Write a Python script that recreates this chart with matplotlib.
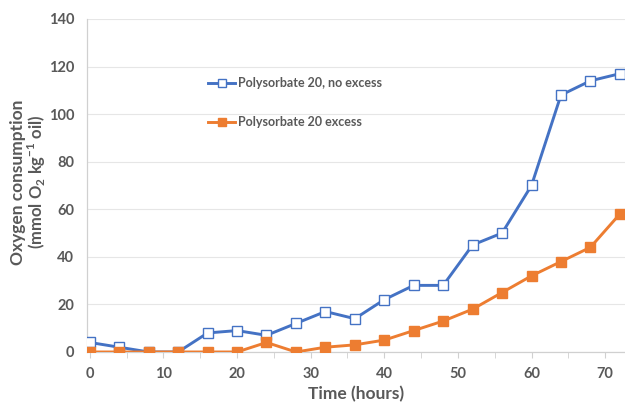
import matplotlib
matplotlib.use('Agg')
import matplotlib.pyplot as plt

hours = [0, 4, 8, 12, 16, 20, 24, 28, 32, 36, 40, 44, 48, 52, 56, 60, 64, 68, 72]
no_excess = [4, 2, 0, 0, 8, 9, 7, 12, 17, 14, 22, 28, 28, 45, 50, 70, 108, 114, 117]
excess = [0, 0, 0, 0, 0, 0, 4, 0, 2, 3, 5, 9, 13, 18, 25, 32, 38, 44, 58]
labels = ['Polysorbate 20, no excess', 'Polysorbate 20 excess']

BLUE = '#4472C4'
ORANGE = '#ED7D31'
TEXT = '#595959'

plt.rcParams['font.family'] = ['Lato', 'DejaVu Sans']
plt.rcParams['mathtext.fontset'] = 'custom'
plt.rcParams['mathtext.rm'] = 'Lato:bold'
plt.rcParams['mathtext.bf'] = 'Lato:bold'

fig = plt.figure(figsize=(6.25, 4.03), dpi=100)
ax = fig.add_axes([0.139, 0.1266, 0.861, 0.8263])

ax.plot(hours, no_excess, color=BLUE, lw=2.1, marker='s', ms=7.5,
        mfc='white', mec=BLUE, mew=1.0, label=labels[0], zorder=3)
ax.plot(hours, excess, color=ORANGE, lw=2.1, marker='s', ms=7.5,
        mfc=ORANGE, mec=ORANGE, label=labels[1], zorder=4)

ax.set_xlim(-0.4, 72.7)
ax.set_ylim(0, 140)
ax.set_yticks(range(0, 141, 20))
ax.set_xticks(range(0, 71, 10))
ax.set_xticks(range(0, 71, 5), minor=True)

ax.grid(axis='y', color='#E6E6E6', lw=0.8, zorder=0)
for s in ['top', 'right']:
    ax.spines[s].set_visible(False)
for s in ['left', 'bottom']:
    ax.spines[s].set_color('#D0D0D0')
    ax.spines[s].set_linewidth(0.9)

ax.tick_params(axis='y', length=0, pad=9, labelsize=10.5, labelcolor=TEXT)
ax.tick_params(axis='x', which='both', direction='out', length=4, color='#D0D0D0',
               pad=7, labelsize=10.5, labelcolor=TEXT)
for t in ax.get_xticklabels() + ax.get_yticklabels():
    t.set_fontweight('bold')

# axis titles placed in figure pixels to match the reference
W, H = 625, 403
fig.text(356 / W, 1 - 394 / H, 'Time (hours)', fontsize=12.5, fontweight='bold',
         color=TEXT, ha='center', va='center')
fig.text(18 / W, 1 - 182 / H, 'Oxygen consumption', fontsize=12.5, fontweight='bold',
         color=TEXT, ha='center', va='center', rotation=90)
fig.text(37 / W, 1 - 182 / H, '(mmol O$_2$ kg$^{-1}$ oil)', fontsize=12, fontweight='bold',
         color=TEXT, ha='center', va='center', rotation=90)

leg = ax.legend(loc='upper left', bbox_to_anchor=(0.225, 0.826), frameon=False,
                borderpad=0, borderaxespad=0, labelspacing=2.2, handlelength=2.2,
                handletextpad=0.2, markerscale=0.8, prop={'weight': 'bold', 'size': 9})
for t in leg.get_texts():
    t.set_color(TEXT)

fig.savefig('out.png', dpi=100)
